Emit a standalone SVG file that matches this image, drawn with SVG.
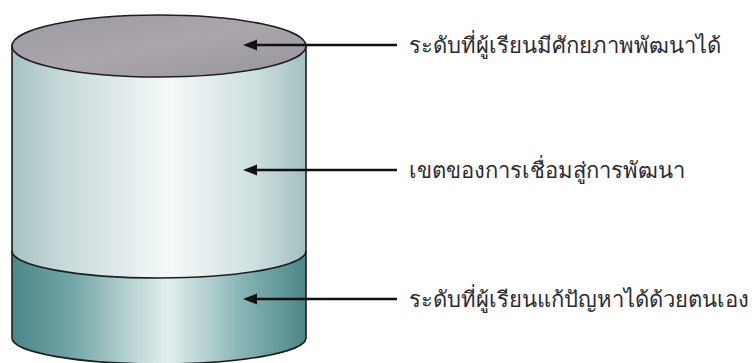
<svg xmlns="http://www.w3.org/2000/svg" width="754" height="363" viewBox="0 0 754 363">
  <style>
    .edge { stroke: #1e1e1e; stroke-width: 1.6; }
    .lead { stroke: #111; stroke-width: 2.6; fill: none; }
    .head { fill: #111; }
    .label { font-family: "Noto Sans", "DejaVu Sans", "Liberation Sans", sans-serif; font-size: 22px; fill: #2a2a33; }
  </style>
  <defs>
    <linearGradient id="bodyFill" x1="0" y1="0" x2="1" y2="0">
      <stop offset="0" stop-color="#a7c2c3"/>
      <stop offset="0.18" stop-color="#c9dadb"/>
      <stop offset="0.54" stop-color="#f5f9f9"/>
      <stop offset="0.82" stop-color="#cfe0e0"/>
      <stop offset="1" stop-color="#a4bfc1"/>
    </linearGradient>
    <linearGradient id="bandFill" x1="0" y1="0" x2="1" y2="0">
      <stop offset="0" stop-color="#4b8789"/>
      <stop offset="0.2" stop-color="#72a5a6"/>
      <stop offset="0.53" stop-color="#e4efee"/>
      <stop offset="0.78" stop-color="#88b5b5"/>
      <stop offset="1" stop-color="#4c8688"/>
    </linearGradient>
    <linearGradient id="topFill" x1="0" y1="0" x2="1" y2="1">
      <stop offset="0" stop-color="#9d99a0"/>
      <stop offset="0.5" stop-color="#aaa6ac"/>
      <stop offset="1" stop-color="#98949b"/>
    </linearGradient>
  </defs>

  <!-- cylinder -->
  <g id="cylinder">
    <path d="M12,45 L12,338 A147,26 0 0 0 306,338 L306,45 Z" fill="url(#bodyFill)"/>
    <path d="M12,251 A147,27 0 0 0 306,251 L306,338 A147,26 0 0 1 12,338 Z" fill="url(#bandFill)"/>
    <path class="edge" fill="none" d="M12,45 L12,338 A147,26 0 0 0 306,338 L306,45"/>
    <path class="edge" fill="none" d="M12,251 A147,27 0 0 0 306,251"/>
    <ellipse class="edge" cx="159" cy="46" rx="147" ry="31" fill="url(#topFill)"/>
  </g>

  <!-- leader arrows -->
  <g id="connectors">
    <line class="lead" x1="397" y1="45" x2="254" y2="45"/>
    <polygon class="head" points="243,45 257,39.5 257,50.5"/>
    <line class="lead" x1="397" y1="170" x2="254" y2="170"/>
    <polygon class="head" points="243,170 257,164.5 257,175.5"/>
    <line class="lead" x1="397" y1="299" x2="254" y2="299"/>
    <polygon class="head" points="243,299 257,293.5 257,304.5"/>
  </g>

  <g id="label-top"><text class="label" x="409" y="53">ระดับที่ผู้เรียนมีศักยภาพพัฒนาได้</text></g>
  <g id="label-middle"><text class="label" x="409" y="178">เขตของการเชื่อมสู่การพัฒนา</text></g>
  <g id="label-bottom"><text class="label" x="409" y="307">ระดับที่ผู้เรียนแก้ปัญหาได้ด้วยตนเอง</text></g>
</svg>
